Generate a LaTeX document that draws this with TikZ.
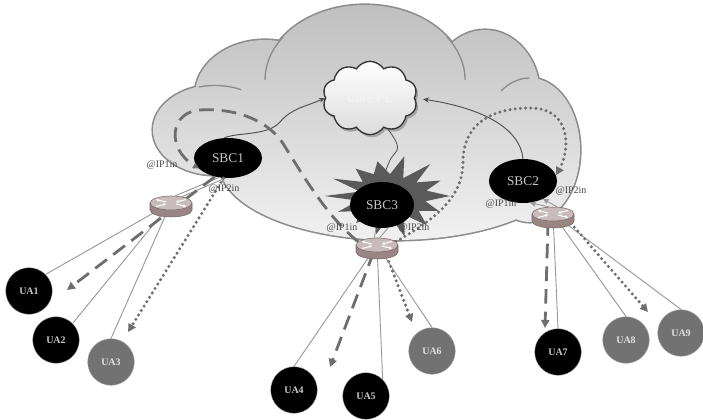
\documentclass[tikz,border=0pt]{standalone}
\usepackage{fontspec}
\setmainfont{Liberation Serif}
\setsansfont{Liberation Sans}
\usetikzlibrary{shapes.geometric,shapes.symbols,arrows.meta,shadows}

\definecolor{cloudedge}{HTML}{8C8C8C}
\definecolor{cloudtop}{HTML}{BEBEBE}
\definecolor{cloudmid}{HTML}{D2D2D2}
\definecolor{cloudlow}{HTML}{F2F2F2}
\definecolor{flowc}{HTML}{6E6E6E}
\definecolor{wirec}{HTML}{9A9A9A}
\definecolor{linkc}{HTML}{4E4E4E}
\definecolor{burstc}{HTML}{5A5A5A}
\definecolor{uagray}{HTML}{727272}
\definecolor{labelc}{HTML}{484848}
\definecolor{rtop}{HTML}{C9BBBB}
\definecolor{rside}{HTML}{9A8585}
\definecolor{redge}{HTML}{786767}

\tikzset{
  sbc/.style={ellipse, fill=black, text=black!22, inner sep=0pt,
    font=\fontsize{10}{12}\selectfont},
  ua/.style={circle, fill=black, draw=black!30, line width=0.3pt,
    minimum size=35pt, inner sep=0pt, text=black!22,
    font=\fontsize{7.5}{9}\selectfont\bfseries},
  uag/.style={ua, fill=uagray, text=black!12},
  ip/.style={text=labelc, inner sep=0pt, font=\fontsize{7.5}{9}\selectfont},
  wire/.style={draw=wirec, line width=0.7pt},
  dashflow/.style={draw=flowc, line width=2.1pt, dash pattern=on 11pt off 6pt,
    -{Triangle[length=6pt,width=6pt]}},
  dotflow/.style={draw=flowc, line width=2.5pt, line cap=round,
    dash pattern=on 0pt off 3.9pt, -{Triangle[length=6pt,width=6pt]}},
  link/.style={draw=linkc, line width=0.7pt, -{Stealth[length=4.5pt,width=4pt]}},
  routerspot/.style={ellipse, minimum width=31.5pt, minimum height=10.5pt, inner sep=0pt},
  router/.pic={
    \fill[rside] (-21,0) -- (-21,7) arc[start angle=180, end angle=0, x radius=21, y radius=7] -- (21,0) -- cycle;
    \draw[redge, line width=0.4pt] (-21,0) -- (-21,7) arc[start angle=180, end angle=0, x radius=21, y radius=7] -- (21,0);
    \fill[rtop, draw=redge, line width=0.4pt] (0,0) ellipse[x radius=21, y radius=7];
    \draw[white, line width=0.8pt, -{Stealth[length=2.2pt,width=2.4pt]}] (-5,-1) -- (-15,-3.5);
    \draw[white, line width=0.8pt, -{Stealth[length=2.2pt,width=2.4pt]}] (5,1) -- (15,3.5);
    \draw[white, line width=0.8pt, -{Stealth[length=2.2pt,width=2.4pt]}] (-15,3.5) -- (-5,1);
    \draw[white, line width=0.8pt, -{Stealth[length=2.2pt,width=2.4pt]}] (15,-3.5) -- (5,-1);
  }
}

\begin{document}
\begin{tikzpicture}[x=0.75pt, y=-0.75pt]
\useasboundingbox (0,0) rectangle (703,420);
\fill[white] (0,0) rectangle (703,420);

% ---- provider cloud: outline of every lobe, then one shaded fill over the union
\draw[cloudedge, line width=2.4pt]
  (365,80) ellipse[x radius=100, y radius=75]
  (265,95) ellipse[x radius=70, y radius=55]
  (215,130) ellipse[x radius=62, y radius=45]
  (485,95) ellipse[x radius=55, y radius=65]
  (530,150) ellipse[x radius=50, y radius=72]
  (395,165) ellipse[x radius=175, y radius=75];
\begin{scope}
  \clip
    (365,80) ellipse[x radius=100, y radius=75]
    (265,95) ellipse[x radius=70, y radius=55]
    (215,130) ellipse[x radius=62, y radius=45]
    (485,95) ellipse[x radius=55, y radius=65]
    (530,150) ellipse[x radius=50, y radius=72]
    (395,165) ellipse[x radius=175, y radius=75];
  \shade[top color=cloudtop, middle color=cloudmid, bottom color=cloudlow]
    (140,0) rectangle (600,245);
\end{scope}
% seams between the lobes
\draw[cloudedge, line width=1pt]
  (265,80) arc[start angle=180, end angle=215, x radius=100, y radius=75];
\draw[cloudedge, line width=1pt]
  (447,37) arc[start angle=325, end angle=360, x radius=100, y radius=75];
\draw[cloudedge, line width=1pt]
  (501,91) arc[start angle=235, end angle=270, x radius=50, y radius=72];
\draw[cloudedge, line width=1pt]
  (199,87) arc[start angle=255, end angle=295, x radius=62, y radius=45];

% ---- core network
\node[cloud, cloud puffs=10, cloud puff arc=115, aspect=1.3,
      minimum width=71pt, minimum height=55pt,
      top color=white, bottom color=black!14, draw=black!80, line width=1pt,
      drop shadow={shadow xshift=1.5pt, shadow yshift=-2pt, fill=black!55},
      text=black!4, font=\sffamily\fontsize{9}{10}\selectfont]
  (core) at (370,98) {Core PE};

% ---- access routers (placement only; drawn later on top of the wires)
\node[routerspot] (r1) at (171,203) {};
\node[routerspot] (r2) at (553,214) {};
\node[routerspot] (r3) at (377,245) {};

% ---- signalling towards the core
\draw[link, line width=0.6pt] (core.-60) .. controls (405,152) and (395,150) .. (390,160)
  .. controls (386,170) and (383,176) .. (383,185);

% starburst behind SBC3
\fill[burstc] plot[samples at={0,...,27}, variable=\k]
  ({390+(47+13*cos(\k*180))*(1+0.1*sin(\k*137))*cos(\k*360/28)},
   {196+(30+8*cos(\k*180))*(1+0.1*sin(\k*137))*sin(\k*360/28)}) -- cycle;

\node[sbc, minimum width=51pt, minimum height=30pt] (sbc1) at (228,158) {SBC1};
\node[sbc, minimum width=51pt, minimum height=33pt] (sbc2) at (523,181) {SBC2};
\node[sbc, minimum width=48pt, minimum height=34.5pt] (sbc3) at (382,205) {SBC3};

\draw[link] (sbc1.100) .. controls (238,132) and (268,136) .. (280,122)
  .. controls (292,108) and (305,107) .. (core.west);
\draw[link, shorten >=6pt] (sbc2.north) .. controls (520,128) and (482,108) .. (core.east);

% ---- media flows inside the cloud
\draw[dashflow, -{Triangle[length=4.5pt,width=4.5pt]}]
  (r3.170) .. controls (325,215) and (300,170) .. (282,142)
  .. controls (265,118) and (232,108) .. (200,110)
  .. controls (170,112) and (166,148) .. (sbc1.200);
\draw[dotflow]
  (r3.10) .. controls (430,222) and (463,200) .. (463,162)
  .. controls (463,125) and (490,108) .. (530,108)
  .. controls (572,108) and (570,150) .. (sbc2.10);

% ---- user agents
\node[ua]  (ua1) at (29,291)  {UA1};
\node[ua]  (ua2) at (56,340)  {UA2};
\node[uag] (ua3) at (111,362) {UA3};
\node[ua]  (ua4) at (294,390) {UA4};
\node[ua]  (ua5) at (366,396) {UA5};
\node[uag] (ua6) at (432,351) {UA6};
\node[ua]  (ua7) at (558,352) {UA7};
\node[uag] (ua8) at (626,340) {UA8};
\node[uag] (ua9) at (681,333) {UA9};

% ---- access wiring
\draw[wire] (r1) -- (ua1.north east);
\draw[wire] (r1) -- (ua2.north east);
\draw[wire] (r1) -- (ua3.north);
\draw[wire] (r1.60) -- (sbc1.245);
\draw[wire] (r1.30) -- (sbc1.262);
\draw[wire] (r3) -- (ua4.north);
\draw[wire] (r3) -- (ua5.north east);
\draw[wire] (r3) -- (ua6.north);
\draw[wire] (r3.110) -- (sbc3.-105);
\draw[wire] (r3.70) -- (sbc3.-75);
\draw[wire] (r2) -- (ua7.north);
\draw[wire] (r2) -- (ua8.north);
\draw[wire] (r2) -- (ua9.north);
\draw[wire, -{Triangle[length=4pt,width=4pt]}] (r2.120) -- (sbc2.-72);
\draw[wire, -{Triangle[length=4pt,width=4pt]}] (r2.60) -- (sbc2.-42);

% ---- media flows towards the user agents
\coordinate (d1end) at (67,290);
\coordinate (d3end) at (128,332);
\coordinate (d4end) at (330,367);
\coordinate (d6end) at (412,322);
\coordinate (d7end) at (545,328);
\coordinate (d8end) at (648,312);
\draw[dashflow] (sbc1.235) -- (d1end);
\draw[dotflow]  (sbc1.258) -- (d3end);
\draw[dashflow] (r3.245) -- (d4end);
\draw[dotflow]  (r3.-40) -- (d6end);
\draw[dashflow] (r2.235) -- (d7end);
\draw[dotflow]  (r2.-20) -- (d8end);

% ---- router icons
\pic at (r1.center) {router};
\pic at (r2.center) {router};
\pic at (r3.center) {router};

% ---- interface addresses
\node[ip] (ipa) at (162,165) {@IP1in};
\node[ip] (ipb) at (224,189) {@IP2in};
\node[ip] (ipc) at (342,228) {@IP1in};
\node[ip] (ipd) at (414,228) {@IP2in};
\node[ip] (ipe) at (571,191) {@IP2in};
\node[ip] (ipf) at (501,204) {@IP1in};
\end{tikzpicture}
\end{document}
